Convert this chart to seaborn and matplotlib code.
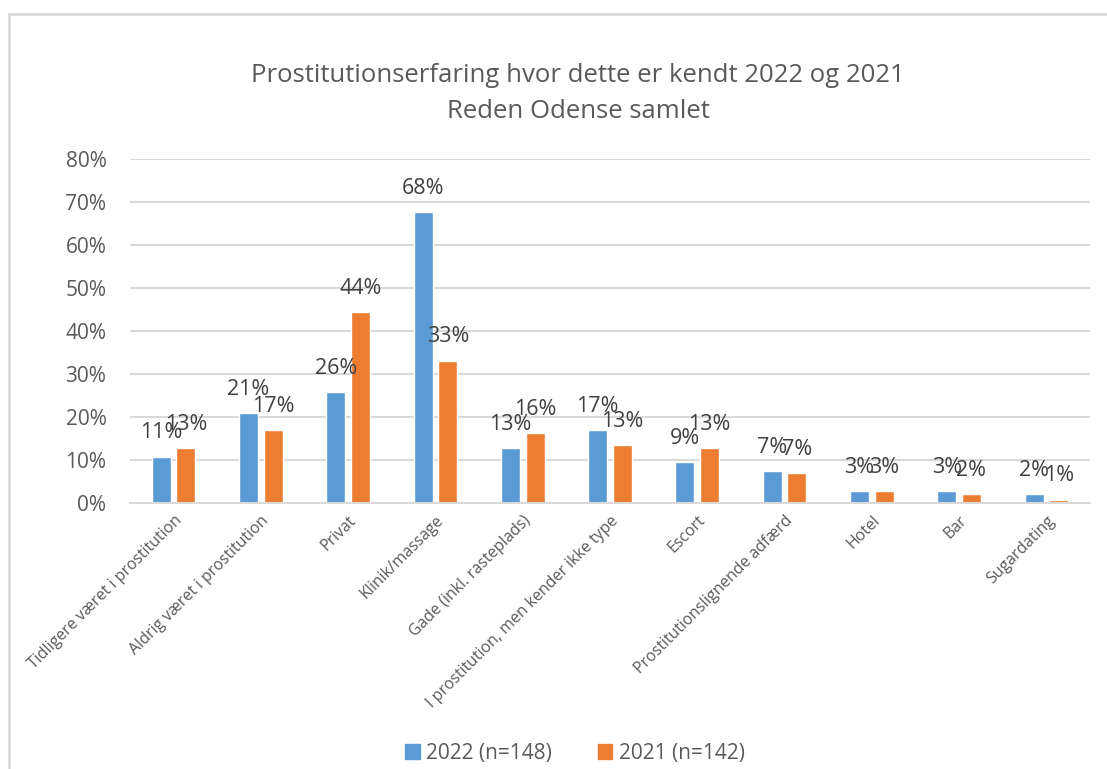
import numpy as np
import pandas as pd
import seaborn as sns
import matplotlib.pyplot as plt
from matplotlib.patches import Rectangle
from matplotlib.ticker import PercentFormatter

# data (share of cases)
categories = ["Tidligere været i prostitution", "Aldrig været i prostitution", "Privat",
              "Klinik/massage", "Gade (inkl. rasteplads)", "I prostitution, men kender ikke type",
              "Escort", "Prostitutionslignende adfærd", "Hotel", "Bar", "Sugardating"]
values_2022 = [0.108, 0.209, 0.257, 0.676, 0.128, 0.169, 0.0946, 0.074, 0.027, 0.027, 0.020]
values_2021 = [0.127, 0.169, 0.444, 0.331, 0.162, 0.134, 0.127, 0.070, 0.028, 0.021, 0.008]
series_names = ["2022 (n=148)", "2021 (n=142)"]
colors = ["#5B9BD5", "#ED7D31"]

df = pd.DataFrame({
    "kategori": categories * 2,
    "andel": values_2022 + values_2021,
    "serie": [series_names[0]] * len(categories) + [series_names[1]] * len(categories),
})

sns.set_style("white")
plt.rcParams["font.family"] = ["Open Sans", "DejaVu Sans"]
txt = "#595959"

W, H = 1107, 769
fig = plt.figure(figsize=(W / 100, H / 100), dpi=100)
ax = fig.add_axes([130 / W, 1 - 503 / H, 960 / W, 344 / H])

sns.barplot(data=df, x="kategori", y="andel", hue="serie", palette=colors,
            width=0.565, gap=0.23, ax=ax, legend=False, saturation=1)

for cont in ax.containers:
    ax.bar_label(cont, labels=[f"{v * 100:.0f}%" for v in cont.datavalues],
                 padding=9.5, fontsize=15.5, color="#404040")

ax.set_ylim(0, 0.8)
ax.set_yticks(np.arange(0, 0.81, 0.1))
ax.yaxis.set_major_formatter(PercentFormatter(1.0, decimals=0))
ax.grid(axis="y", color="#D9D9D9", linewidth=1.5)
ax.set_axisbelow(True)
for s in ["top", "right", "left"]:
    ax.spines[s].set_visible(False)
ax.spines["bottom"].set_color("#D9D9D9")
ax.spines["bottom"].set_linewidth(1.5)
ax.tick_params(axis="y", length=0, labelsize=15, labelcolor=txt, pad=17)
ax.tick_params(axis="x", length=0, labelsize=11.4, labelcolor=txt, pad=7)
ax.set_xlim(-0.5, len(categories) - 0.5)
plt.setp(ax.get_xticklabels(), rotation=45, ha="right", rotation_mode="anchor")
ax.set_xlabel("")
ax.set_ylabel("")

# chart border
fig.patches.append(Rectangle((9 / W, -0.05), 1.1, 1 - 14 / H + 0.05, transform=fig.transFigure,
                             fill=False, edgecolor="#D9D9D9", linewidth=2))

fig.text(578 / W, 1 - 75 / H, "Prostitutionserfaring hvor dette er kendt 2022 og 2021",
         ha="center", va="center", fontsize=18.5, color=txt)
fig.text(578 / W, 1 - 112 / H, "Reden Odense samlet",
         ha="center", va="center", fontsize=18.5, color=txt)

handles = [Rectangle((0, 0), 1, 1, color=c) for c in colors]
fig.legend(handles, series_names, loc="center", bbox_to_anchor=(575 / W, 1 - 753 / H),
           ncol=2, frameon=False, fontsize=15, labelcolor=txt, handlelength=0.7,
           handleheight=0.7, handletextpad=0.3, columnspacing=2.2)

fig.savefig("out.png", dpi=100, facecolor="white")
